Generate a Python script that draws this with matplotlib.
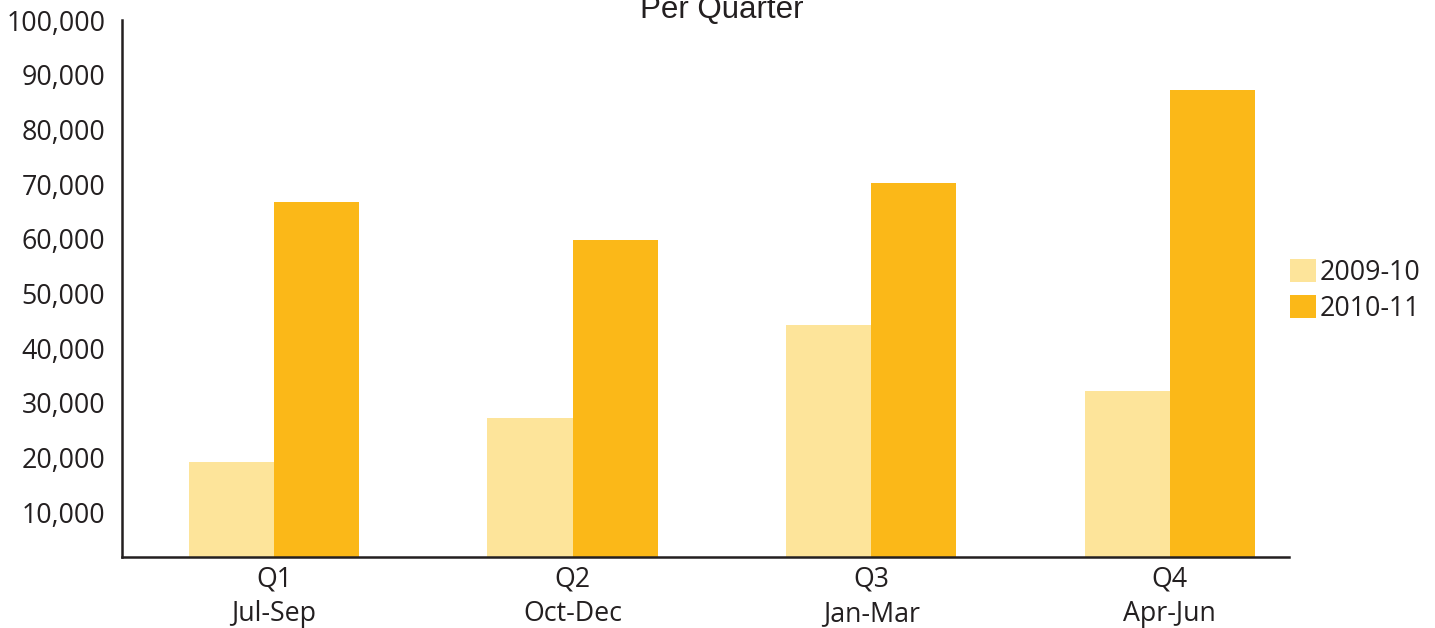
import matplotlib
matplotlib.use("Agg")
import matplotlib.pyplot as plt
from matplotlib.patches import Patch
import numpy as np

# --- data ---
quarters = ["Q1\nJul-Sep", "Q2\nOct-Dec", "Q3\nJan-Mar", "Q4\nApr-Jun"]
series_names = ["2009-10", "2010-11"]
values_2009_10 = [19200, 27300, 44300, 32200]
values_2010_11 = [66700, 59700, 70200, 87200]
y_ticks = [10000, 20000, 30000, 40000, 50000, 60000, 70000, 80000, 90000, 100000]

light = "#FDE49A"
dark = "#FBB818"
ink = "#231F20"

plt.rcParams["font.family"] = ["Open Sans", "DejaVu Sans"]

fig = plt.figure(figsize=(14.35, 6.28), dpi=100)
ax = fig.add_axes([0.085, 0.113, 0.813, 0.855])

x = np.arange(len(quarters))
w = 0.285
ax.bar(x - w / 2, values_2009_10, width=w, color=light, zorder=2)
ax.bar(x + w / 2, values_2010_11, width=w, color=dark, zorder=2)

ax.set_xlim(-0.509, 3.398)
ax.set_ylim(1800, 100000)
ax.set_yticks(y_ticks)
ax.set_yticklabels([f"{v:,}" for v in y_ticks])
ax.set_xticks(x)
ax.set_xticklabels(quarters, linespacing=1.3)

ax.tick_params(axis="y", length=0, pad=12, labelsize=19.3, labelcolor=ink)
ax.tick_params(axis="x", length=0, pad=6, labelsize=19.3, labelcolor=ink)

for s in ["top", "right"]:
    ax.spines[s].set_visible(False)
for s in ["left", "bottom"]:
    ax.spines[s].set_linewidth(1.8)
    ax.spines[s].set_color(ink)
    ax.spines[s].set_zorder(3)

# title: only the second line shows, as in the source (top edge cuts it)
fig.text(0.503, 0.971, "Per Quarter", ha="center", va="baseline",
         fontsize=22.5, color=ink, family=["Liberation Sans", "DejaVu Sans"])

handles = [Patch(facecolor=light, label=series_names[0]),
           Patch(facecolor=dark, label=series_names[1])]
fig.legend(handles=handles, loc="center left", bbox_to_anchor=(0.899, 0.537),
           frameon=False, fontsize=19.3, handlelength=0.95, handleheight=0.95,
           handletextpad=0.15, labelspacing=0.3, labelcolor=ink,
           borderpad=0.0, borderaxespad=0.0)

fig.savefig("out.png", dpi=100)
